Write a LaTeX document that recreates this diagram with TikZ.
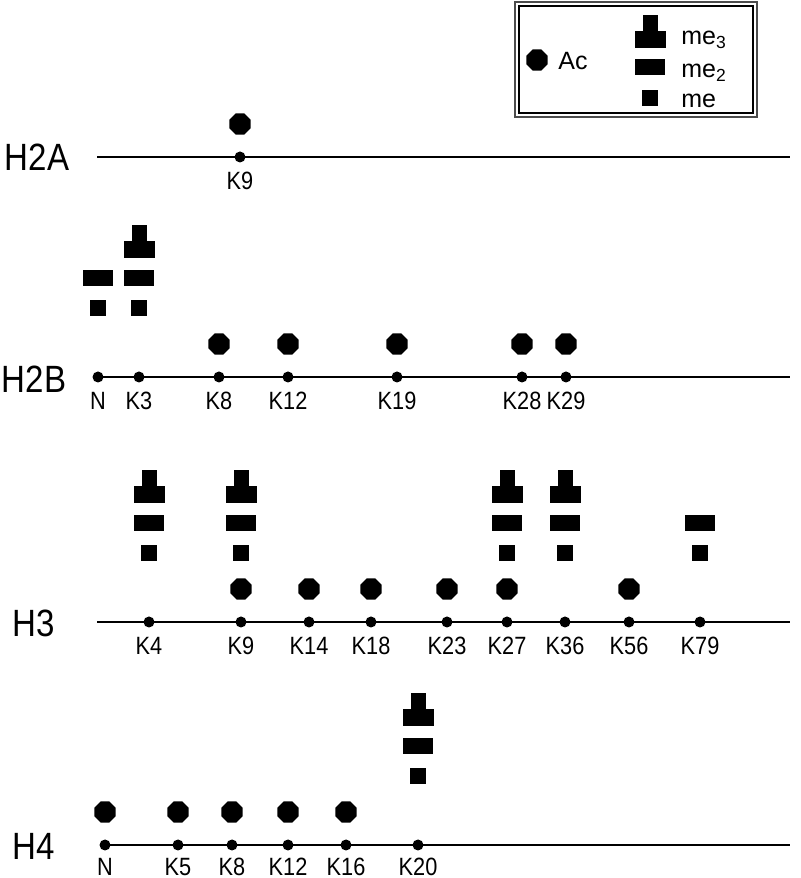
\documentclass[tikz,border=0pt]{standalone}
\usepackage{fontspec}
\setmainfont{Liberation Sans}[FakeStretch=0.87]
\newfontfamily\legendfont{Liberation Sans}
\usetikzlibrary{shapes.geometric, positioning}

\begin{document}
\begin{tikzpicture}[x=0.5pt, y=0.5pt,
  site/.style={circle, fill=black, inner sep=0pt, minimum size=5.5pt},
  klabel/.style={font=\fontsize{12.5}{14}\selectfont, inner sep=0pt},
  histone/.style={font=\fontsize{19}{22}\selectfont, inner sep=0pt},
  legtext/.style={font=\legendfont\fontsize{12.5}{14}\selectfont, inner sep=0pt},
  ac/.style={regular polygon, regular polygon sides=8, fill=black,
             inner sep=0pt, minimum size=11.4pt},
  mea/.style={rectangle, fill=black, inner sep=0pt,
              minimum width=8pt, minimum height=8pt},
  meb/.style={rectangle, fill=black, inner sep=0pt,
              minimum width=15pt, minimum height=8pt},
  mecbase/.style={rectangle, fill=black, inner sep=0pt,
                  minimum width=15.5pt, minimum height=8.5pt},
  mectop/.style={rectangle, fill=black, inner sep=0pt,
                 minimum width=7.5pt, minimum height=8pt},
  axis/.style={line width=0.6pt},
]
  \useasboundingbox (0,0) rectangle (800,878);

  % legend
  \draw[gray!60!black, line width=1pt] (515,876) rectangle (757,761);
  \draw[line width=0.6pt] (519,872) rectangle (753,765);
  \node[ac] (legac) at (537,818) {};
  \node[legtext, anchor=base west] at (558,808) {Ac};
  \node[mecbase] (legc) at (650,838) {};
  \node[mectop, above=0pt of legc] {};
  \node[meb] (legb) at (650,810.5) {};
  \node[mea] (lega) at (650,779.5) {};
  \node[legtext, anchor=base west] at (681,833) {me\textsubscript{3}};
  \node[legtext, anchor=base west] at (681,800) {me\textsubscript{2}};
  \node[legtext, anchor=base west] at (681,770) {me};

  % H2A
  \node[histone] (h2a) at (37,721) {H2A};
  \coordinate (h2aL) at (97,721);
  \coordinate (h2aR) at (790,721);
  \draw[axis] (h2aL) -- (h2aR);
  \node[site] (h2aK9) at (240,721) {};
  \node[klabel] at (240,697) {K9};
  \node[ac] at ([yshift=16.5pt]h2aK9.center) {};

  % H2B
  \node[histone] (h2b) at (34,499) {H2B};
  \foreach \s/\x in {N/98, K3/139, K8/219, K12/288, K19/397, K28/522, K29/566}{
    \node[site] (h2b\s) at (\x,501) {};
    \node[klabel] at (\x,477) {\s};
  }
  \coordinate (h2bR) at (790,501);
  \draw[axis] (h2bN.center) -- (h2bR);
  \foreach \s in {K8,K12,K19,K28,K29}
    \node[ac] at ([yshift=16.5pt]h2b\s.center) {};
  \foreach \s in {N,K3}{
    \node[mea] at ([yshift=34.5pt]h2b\s.center) {};
    \node[meb] at ([yshift=49.5pt]h2b\s.center) {};
  }
  \node[mecbase] (h2bK3c) at ([yshift=63.5pt]h2bK3.center) {};
  \node[mectop, above=0pt of h2bK3c] {};

  % H3
  \node[histone] (h3) at (34,255) {H3};
  \foreach \s/\x in {K4/149, K9/241, K14/309, K18/371, K23/447, K27/507,
                     K36/565, K56/629, K79/700}{
    \node[site] (h3\s) at (\x,256) {};
    \node[klabel] at (\x,232) {\s};
  }
  \coordinate (h3L) at (97,256);
  \coordinate (h3R) at (790,256);
  \draw[axis] (h3L) -- (h3R);
  \foreach \s in {K9,K14,K18,K23,K27,K56}
    \node[ac] at ([yshift=16.5pt]h3\s.center) {};
  \foreach \s in {K4,K9,K27,K36,K79}{
    \node[mea] at ([yshift=34.5pt]h3\s.center) {};
    \node[meb] at ([yshift=49.5pt]h3\s.center) {};
  }
  \foreach \s in {K4,K9,K27,K36}{
    \node[mecbase] (h3\s c) at ([yshift=63.5pt]h3\s.center) {};
    \node[mectop, above=0pt of h3\s c] {};
  }

  % H4
  \node[histone] (h4) at (34,32) {H4};
  \foreach \s/\x in {N/105, K5/178, K8/232, K12/288, K16/346, K20/418}{
    \node[site] (h4\s) at (\x,33) {};
    \node[klabel] at (\x,11) {\s};
  }
  \coordinate (h4R) at (790,33);
  \draw[axis] (h4N.center) -- (h4R);
  \foreach \s in {N,K5,K8,K12,K16}
    \node[ac] at ([yshift=16.5pt]h4\s.center) {};
  \node[mea] at ([yshift=34.5pt]h4K20.center) {};
  \node[meb] at ([yshift=49.5pt]h4K20.center) {};
  \node[mecbase] (h4K20c) at ([yshift=63.5pt]h4K20.center) {};
  \node[mectop, above=0pt of h4K20c] {};
\end{tikzpicture}
\end{document}
